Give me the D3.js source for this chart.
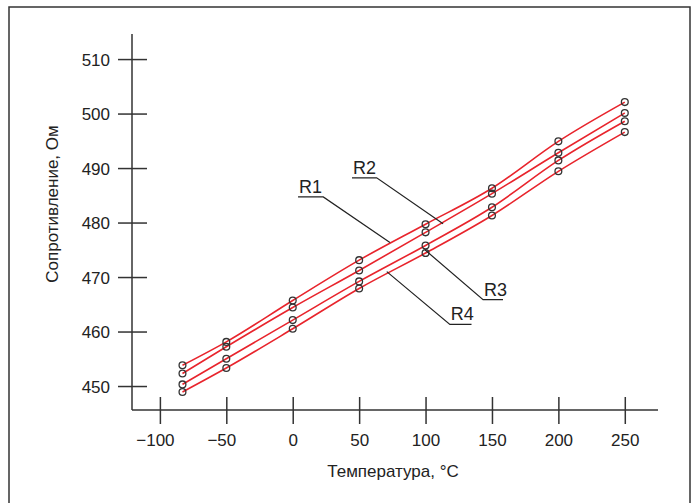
<!DOCTYPE html>
<html>
<head>
<meta charset="utf-8">
<script src="https://cdn.jsdelivr.net/npm/d3@7"></script>
<style>
  body { margin: 0; background: #fff; }
  svg { display: block; font-family: "Liberation Sans", Arial, sans-serif; }
  .axis line, .axis-line { stroke: #333; stroke-width: 1.5; }
  .tick text { fill: #222; font-size: 17px; }
  .title { fill: #222; font-size: 17px; }
  .series { fill: none; stroke: #e8242c; stroke-width: 1.6; }
  .dot { fill: none; stroke: #333; stroke-width: 1.3; }
  .note line, .note path { stroke: #222; stroke-width: 1.2; fill: none; }
  .note text { fill: #222; font-size: 18px; }
</style>
</head>
<body>
<div id="chart"></div>
<script>
const temps = [-83, -50, 0, 50, 100, 150, 200, 250];
const r1 = [453.8, 458.1, 465.7, 473.1, 479.7, 486.3, 494.9, 502.1];
const r2 = [452.3, 457.2, 464.4, 471.2, 478.2, 485.3, 492.8, 500.1];
const r3 = [450.3, 455.0, 462.1, 469.2, 475.8, 482.8, 491.4, 498.6];
const r4 = [448.9, 453.3, 460.5, 467.9, 474.4, 481.3, 489.4, 496.6];
const xTicks = [-100, -50, 0, 50, 100, 150, 200, 250];
const yTicks = [450, 460, 470, 480, 490, 500, 510];

// labels with leaders: underline from t0..t1 at value v, leader to (tx, tv)
const notes = [
    { name: "R1", t0: 4, t1: 23, v: 484.7, tx: 73.2, tv: 476.35, from: "right" },
    { name: "R2", t0: 44.6, t1: 63.2, v: 488.2, tx: 113.2, tv: 479.8, from: "right" },
    { name: "R3", t0: 143.3, t1: 158.3, v: 465.85, tx: 99.5, tv: 475.0, from: "left" },
    { name: "R4", t0: 118.3, t1: 134.6, v: 461.3, tx: 70.8, tv: 471.0, from: "left" }
];

const width = 692, height = 503;
const plotLeft = 132, plotRight = 658, plotTop = 34, plotBottom = 410;

const svg = d3.select("#chart").append("svg")
    .attr("width", width)
    .attr("height", height);

// frame
svg.append("rect")
    .attr("x", 9).attr("y", 7)
    .attr("width", 681).attr("height", 520)
    .attr("fill", "none")
    .attr("stroke", "#333")
    .attr("stroke-width", 1.5);

const x = d3.scaleLinear().domain([-121, 275]).range([plotLeft, plotRight]);
const y = d3.scaleLinear().domain([445.6, 514.6]).range([plotBottom, plotTop]);

// axis lines
svg.append("line").attr("class", "axis-line")
    .attr("x1", plotLeft).attr("x2", plotLeft).attr("y1", plotTop).attr("y2", plotBottom);
svg.append("line").attr("class", "axis-line")
    .attr("x1", plotLeft).attr("x2", plotRight).attr("y1", plotBottom).attr("y2", plotBottom);

const fmt = d => d < 0 ? "\u2212" + Math.abs(d) : String(d);

let gx = svg.append("g")
    .attr("class", "axis")
    .attr("transform", `translate(0,${plotBottom})`)
    .call(d3.axisBottom(x).tickValues(xTicks).tickSize(0).tickFormat(fmt));
gx.select(".domain").remove();
gx.selectAll(".tick line").attr("y1", -13).attr("y2", 14);
gx.selectAll(".tick text")
    .attr("y", 24)
    .attr("dy", "0.71em")
    .attr("dx", d => d < 0 ? -5 : 0)
    .attr("font-family", null).attr("font-size", null);

let gy = svg.append("g")
    .attr("class", "axis")
    .attr("transform", `translate(${plotLeft},0)`)
    .call(d3.axisLeft(y).tickValues(yTicks).tickSize(0));
gy.select(".domain").remove();
gy.selectAll(".tick line").attr("x1", -14).attr("x2", 15);
gy.selectAll(".tick text")
    .attr("x", -22)
    .attr("dy", "0.36em")
    .attr("font-family", null).attr("font-size", null);

// axis titles
svg.append("text").attr("class", "title")
    .attr("x", (plotLeft + plotRight) / 2 - 2)
    .attr("y", 477)
    .attr("text-anchor", "middle")
    .text("Температура, °С");

svg.append("text").attr("class", "title")
    .attr("transform", "translate(58,204) rotate(-90)")
    .attr("text-anchor", "middle")
    .text("Сопротивление, Ом");

// series
const series = [r1, r2, r3, r4];
const line = d3.line()
    .x((d, i) => x(temps[i]))
    .y(d => y(d))
    .curve(d3.curveMonotoneX);

svg.selectAll("path.series")
    .data(series)
    .enter()
    .append("path")
    .attr("class", "series")
    .attr("d", d => line(d));

series.forEach(s => {
    svg.selectAll(null)
        .data(s)
        .enter()
        .append("circle")
        .attr("class", "dot")
        .attr("cx", (d, i) => x(temps[i]))
        .attr("cy", d => y(d))
        .attr("r", 3.4);
});

// labels
let note = svg.selectAll("g.note")
    .data(notes)
    .enter()
    .append("g")
    .attr("class", "note");

note.append("path")
    .attr("d", d => {
        const sx = d.from == "right" ? x(d.t1) : x(d.t0);
        const other = d.from == "right" ? x(d.t0) : x(d.t1);
        return `M ${other} ${y(d.v)} L ${sx} ${y(d.v)} L ${x(d.tx)} ${y(d.tv)}`;
    });

note.append("text")
    .attr("x", d => x(d.t0) + 1)
    .attr("y", d => y(d.v) - 4)
    .text(d => d.name);
</script>
</body>
</html>
